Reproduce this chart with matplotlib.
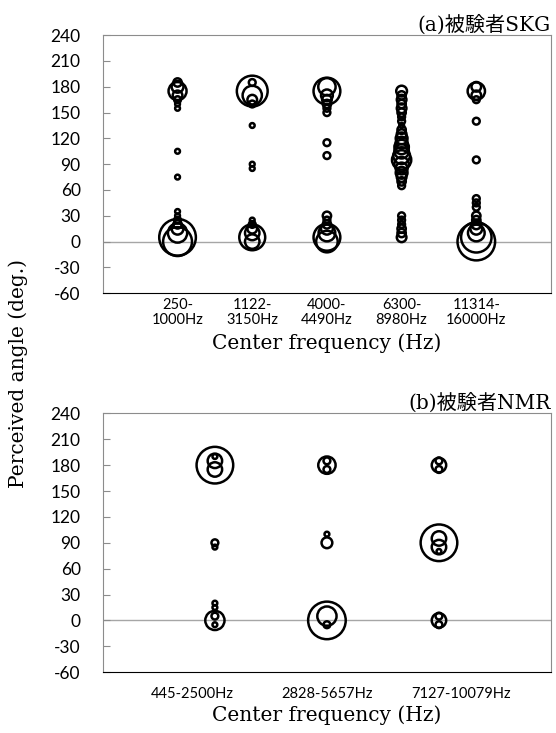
import matplotlib.pyplot as plt

plt.rcParams['axes.unicode_minus'] = False

# (a) subject SKG: angles (deg.) and response counts for each band
skg_bands = ['250-\n1000Hz', '1122-\n3150Hz', '4000-\n4490Hz',
             '6300-\n8980Hz', '11314-\n16000Hz']
skg_angles = [
    [185, 180, 175, 170, 165, 160, 155, 105, 75, 35, 30, 25, 20, 15, 10, 5, 0],
    [185, 175, 170, 165, 160, 135, 90, 85, 25, 20, 15, 10, 5, 0],
    [180, 175, 170, 165, 160, 155, 150, 115, 100, 30, 25, 20, 15, 10, 5, 0],
    [175, 170, 165, 160, 155, 150, 145, 140, 135, 130, 125, 120, 115, 110,
     105, 100, 95, 90, 85, 80, 75, 70, 65, 30, 25, 20, 15, 10, 5],
    [180, 175, 170, 165, 140, 95, 50, 45, 40, 30, 25, 20, 15, 10, 5, 0],
]
skg_counts = [
    [3, 6, 14, 4, 2, 1, 1, 1, 1, 1, 1, 2, 3, 6, 16, 58, 36],
    [2, 41, 16, 4, 2, 1, 1, 1, 1, 2, 4, 9, 29, 9],
    [13, 31, 6, 4, 3, 2, 2, 2, 2, 3, 2, 3, 6, 12, 31, 20],
    [5, 3, 4, 3, 4, 3, 2, 2, 1, 3, 4, 6, 6, 9, 9, 12, 16, 9, 6, 6, 4, 3, 2,
     2, 2, 2, 3, 3, 4],
    [4, 13, 4, 2, 2, 2, 2, 2, 2, 3, 3, 4, 6, 12, 40, 61],
]

# (b) subject NMR
nmr_bands = ['445-2500Hz', '2828-5657Hz', '7127-10079Hz']
nmr_angles = [
    [190, 185, 180, 175, 90, 85, 20, 15, 5, 0, -5],
    [185, 180, 175, 100, 90, 5, 0, -5],
    [185, 180, 175, 95, 90, 85, 80, 5, 0, -5],
]
nmr_counts = [
    [1, 9, 58, 9, 2, 1, 1, 1, 2, 16, 1],
    [2, 13, 2, 1, 5, 16, 61, 2],
    [2, 9, 2, 9, 58, 9, 1, 2, 9, 2],
]

yticks = list(range(-60, 241, 30))
serif = ['DejaVu Serif', 'Noto Sans CJK JP']
size_scale = 12  # points^2 per response

fig = plt.figure(figsize=(5.56, 7.33), dpi=100)
ax1 = fig.add_axes([0.185, 0.600, 0.806, 0.352])
ax2 = fig.add_axes([0.185, 0.083, 0.806, 0.353])


def style_axis(ax):
    ax.set_ylim(-60, 240)
    ax.set_yticks(yticks)
    for side in ['top', 'left', 'right']:
        ax.spines[side].set_color('#8c8c8c')
    ax.spines['bottom'].set_color('black')
    ax.axhline(0, color='#a6a6a6', linewidth=1, zorder=0)
    ax.tick_params(axis='y', direction='in', length=5, color='#8c8c8c',
                   pad=16, labelsize=12.5)
    ax.tick_params(axis='x', length=0)
    for lab in ax.get_yticklabels():
        lab.set_family('Lato')


# top panel
for i in range(len(skg_bands)):
    ax1.scatter([i + 1] * len(skg_angles[i]), skg_angles[i],
                s=[c * size_scale for c in skg_counts[i]],
                facecolors='none', edgecolors='black', linewidths=1.8)
ax1.set_xlim(0, 6)
ax1.set_xticks(range(1, 6))
ax1.set_xticklabels(skg_bands, family='Lato', fontsize=10.5, linespacing=1.05)
style_axis(ax1)
ax1.tick_params(axis='x', pad=3.5)
ax1.set_xlabel('Center frequency (Hz)', family=serif, fontsize=14.5, labelpad=5)
ax1.set_title('(a)被験者SKG', family=serif, fontsize=14.5, loc='right', pad=3)

# bottom panel
for i in range(len(nmr_bands)):
    ax2.scatter([i + 1] * len(nmr_angles[i]), nmr_angles[i],
                s=[c * size_scale for c in nmr_counts[i]],
                facecolors='none', edgecolors='black', linewidths=1.8)
ax2.set_xlim(0, 4)
ax2.set_xticks([0.8, 2.0, 3.2])
ax2.set_xticklabels(nmr_bands, family='Lato', fontsize=10.5)
style_axis(ax2)
ax2.tick_params(axis='x', pad=11)
ax2.set_xlabel('Center frequency (Hz)', family=serif, fontsize=14.5, labelpad=3)
ax2.set_title('(b)被験者NMR', family=serif, fontsize=14.5, loc='right', pad=3)

fig.text(0.032, 0.49, 'Perceived angle (deg.)', family=serif, fontsize=14.5,
         rotation=90, ha='center', va='center')

fig.savefig('out.png', dpi=100)
